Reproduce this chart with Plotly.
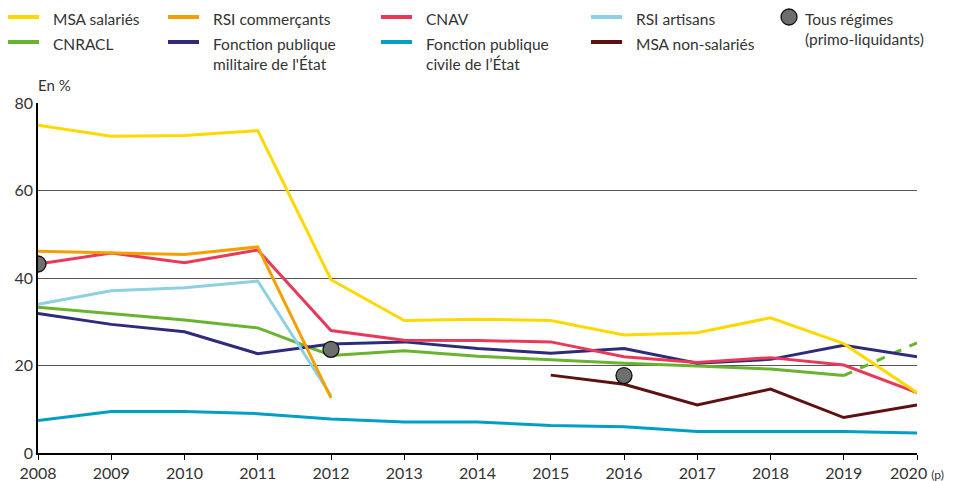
import plotly.graph_objects as go

years = list(range(2008, 2021))
x_labels = [str(y) for y in years[:-1]] + ["2020 <span style='font-size:12px'>(p)</span>"]

msa_salaries = [74.9, 72.4, 72.6, 73.7, 39.6, 30.3, 30.6, 30.3, 27.0, 27.5, 30.9, 25.0, 13.8]
rsi_commercants = [46.1, 45.8, 45.4, 47.1, 12.6]
cnav = [43.2, 45.7, 43.5, 46.4, 28.0, 25.8, 25.7, 25.4, 22.0, 20.7, 21.8, 20.1, 13.8]
rsi_artisans = [34.0, 37.1, 37.8, 39.3, 13.1]
cnracl = [33.3, 31.8, 30.4, 28.6, 22.3, 23.4, 22.1, 21.3, 20.5, 19.9, 19.2, 17.7]
cnracl_2020 = 25.2
fp_militaire = [31.9, 29.4, 27.7, 22.7, 24.9, 25.4, 23.9, 22.8, 23.9, 20.5, 21.4, 24.6, 22.0]
fp_civile = [7.4, 9.5, 9.5, 9.0, 7.8, 7.1, 7.1, 6.3, 6.0, 4.9, 4.9, 4.9, 4.6]
msa_non_salaries_years = [2015, 2016, 2017, 2018, 2019, 2020]
msa_non_salaries = [17.8, 15.7, 11.0, 14.6, 8.1, 11.0]
tous_regimes_years = [2008, 2012, 2016]
tous_regimes = [43.2, 23.7, 17.7]

C_MSA = "#FFD800"
C_RSIC = "#F5A000"
C_CNAV = "#E83A58"
C_RSIA = "#8DD0E2"
C_CNRACL = "#69B42E"
C_FPM = "#2E2C7A"
C_FPC = "#009FC4"
C_MSANS = "#5E1111"
C_TR = "#6E6E6E"

FONT = "Lato"
TXT = "#333333"
LW = 3

fig = go.Figure()

def add_line(xs, ys, color, dash="solid"):
    fig.add_trace(go.Scatter(x=xs, y=ys, mode="lines",
                             line=dict(color=color, width=LW, dash=dash),
                             showlegend=False, hoverinfo="skip"))

add_line(years[:len(fp_civile)], fp_civile, C_FPC)
add_line(msa_non_salaries_years, msa_non_salaries, C_MSANS)
add_line(years[:len(cnracl)], cnracl, C_CNRACL)
add_line([2019, 2020], [cnracl[-1], cnracl_2020], C_CNRACL, dash="dash")
add_line(years[:len(fp_militaire)], fp_militaire, C_FPM)
add_line(years[:len(rsi_artisans)], rsi_artisans, C_RSIA)
add_line(years[:len(cnav)], cnav, C_CNAV)
add_line(years[:len(rsi_commercants)], rsi_commercants, C_RSIC)
add_line(years[:len(msa_salaries)], msa_salaries, C_MSA)

fig.add_trace(go.Scatter(x=tous_regimes_years, y=tous_regimes, mode="markers",
                         marker=dict(size=16, color=C_TR, line=dict(color="#111111", width=1.3)),
                         showlegend=False, hoverinfo="skip"))

# page has an 8px body margin: figure is drawn offset by 8px
OFF = 8
W, H = 956 - OFF, 481 - OFF
# plot area in screen pixels
L, R, T, B = 38, 917, 103, 453

def px(xp):
    return (xp - L) / (R - L)

def py(yp):
    return (B - yp) / (B - T)

legend_items = [
    ("MSA salariés", C_MSA, 8, 17),
    ("RSI commerçants", C_RSIC, 168, 17),
    ("CNAV", C_CNAV, 381, 17),
    ("RSI artisans", C_RSIA, 591, 17),
    ("CNRACL", C_CNRACL, 8, 42),
    ("Fonction publique<br>militaire de l'État", C_FPM, 168, 42),
    ("Fonction publique<br>civile de l’État", C_FPC, 381, 42),
    ("MSA non-salariés", C_MSANS, 591, 42),
]

shapes = []
annotations = []
for label, color, x0, y0 in legend_items:
    shapes.append(dict(type="line", xref="paper", yref="paper",
                       x0=px(x0), x1=px(x0 + 31), y0=py(y0), y1=py(y0),
                       line=dict(color=color, width=4)))
    annotations.append(dict(xref="paper", yref="paper", x=px(x0 + 43), y=py(y0 - 9),
                            text=label, showarrow=False, xanchor="left", yanchor="top",
                            align="left", font=dict(family=FONT, size=15.5, color=TXT)))

# Tous régimes legend marker
shapes.append(dict(type="circle", xref="paper", yref="paper",
                   x0=px(781), x1=px(797), y0=py(9), y1=py(25),
                   fillcolor=C_TR, line=dict(color="#111111", width=1.3)))
annotations.append(dict(xref="paper", yref="paper", x=px(803), y=py(8),
                        text="Tous régimes<br>(primo-liquidants)", showarrow=False,
                        xanchor="left", yanchor="top", align="left",
                        font=dict(family=FONT, size=15.5, color=TXT)))

annotations.append(dict(xref="paper", yref="paper", x=px(36), y=py(74),
                        text="En %", showarrow=False, xanchor="left", yanchor="top",
                        font=dict(family=FONT, size=15, color=TXT)))

fig.update_layout(
    width=W, height=H,
    margin=dict(l=L - OFF, r=W - (R - OFF), t=T - OFF, b=H - (B - OFF), autoexpand=False),
    paper_bgcolor="white", plot_bgcolor="white",
    shapes=shapes, annotations=annotations,
    showlegend=False,
    font=dict(family=FONT, color=TXT),
    xaxis=dict(range=[2008, 2020], tickmode="array", tickvals=years, ticktext=x_labels,
               showgrid=False, zeroline=False, showline=True, linecolor="black", linewidth=1.5,
               ticks="outside", ticklen=5, tickcolor="black", tickwidth=1.2, automargin=False,
               tickfont=dict(family=FONT, size=16, color=TXT), fixedrange=True),
    yaxis=dict(range=[0, 80], tickvals=[0, 20, 40, 60, 80], showgrid=True,
               gridcolor="#555555", gridwidth=1, zeroline=False, automargin=False,
               showline=True, linecolor="black", linewidth=1.5, ticks="",
               tickfont=dict(family=FONT, size=16, color=TXT), fixedrange=True),
)

fig.write_html("out.html")
